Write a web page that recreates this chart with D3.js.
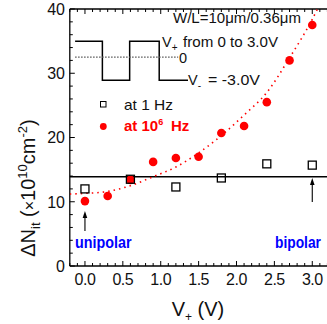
<!DOCTYPE html>
<html><head><meta charset="utf-8">
<script src="https://cdn.jsdelivr.net/npm/d3@7"></script>
<style>
html,body{margin:0;padding:0;background:#fff;}
svg{display:block;font-family:Arial,"Liberation Sans",sans-serif;}
</style></head>
<body><svg id="c" width="327" height="324"></svg>
<script>
// ---- data ----
const vPlus1Hz = [0.0, 0.6, 1.2, 1.8, 2.4, 3.0];
const dNit1Hz = [12.0, 13.5, 12.3, 13.7, 15.9, 15.7];
const vPlusHF = [0.0, 0.3, 0.6, 0.9, 1.2, 1.5, 1.8, 2.1, 2.4, 2.7, 3.0];
const dNitHF = [10.1, 10.9, 13.4, 16.2, 16.8, 17.0, 20.7, 21.8, 25.5, 32.0, 37.5];
const fitV = [-0.2, 0.0, 0.3, 0.6, 0.9, 1.2, 1.5, 1.8, 2.1, 2.4, 2.7, 3.0, 3.15];
const fitN = [11.2, 11.3, 11.6, 12.5, 13.9, 15.4, 17.6, 20.3, 23.5, 27.0, 32.4, 38.4, 42.0];
const refLevel = 13.9;
const xTicks = [0.0, 0.5, 1.0, 1.5, 2.0, 2.5, 3.0];
const yTicks = [0, 10, 20, 30, 40];
// inset pulse waveform (in data units)
const pulseX = [-0.13, 0.23, 0.59, 0.98, 1.36];
const pulseHigh = 35.0, pulseLow = 28.9, pulseZero = 32.5, pulseZeroEnd = 1.23;

const svg = d3.select("#c");
const x = d3.scaleLinear().domain([-0.2, 3.3]).range([69.8, 335]);
const y = d3.scaleLinear().domain([0, 40]).range([266, 9]);
const X0 = x.range()[0], X1 = 327, Y0 = y(0), Y1 = y(40);
const ink = "#111";

svg.append("defs").append("clipPath").attr("id","clip")
  .append("rect").attr("x",X0).attr("y",Y1).attr("width",X1-X0).attr("height",Y0-Y1);

// ticks (inside)
const minorX = d3.range(-0.2, 3.31, 0.1).map(v=>+v.toFixed(2));
const tg = svg.append("g").attr("stroke","#000").attr("stroke-width",1);
minorX.forEach(v=>{
  const major = Math.abs(v*2-Math.round(v*2))<1e-6;
  const L = major?5:3;
  tg.append("line").attr("x1",x(v)).attr("x2",x(v)).attr("y1",Y0).attr("y2",Y0-L);
  tg.append("line").attr("x1",x(v)).attr("x2",x(v)).attr("y1",Y1).attr("y2",Y1+L);
});
d3.range(0, 41, 2).forEach(v=>{
  const L = v%10===0?5:3;
  tg.append("line").attr("x1",X0).attr("x2",X0+L).attr("y1",y(v)).attr("y2",y(v));
});

// frame
const fr = svg.append("g").attr("stroke","#000").attr("stroke-width",1.3).attr("fill","none");
fr.append("line").attr("x1",X0).attr("x2",X0).attr("y1",Y1).attr("y2",Y0);
fr.append("line").attr("x1",X0).attr("x2",X1).attr("y1",Y0).attr("y2",Y0);
fr.append("line").attr("x1",X0).attr("x2",X1).attr("y1",Y1).attr("y2",Y1);

// tick labels
svg.append("g").selectAll("text").data(xTicks).join("text")
  .attr("x",d=>x(d)).attr("y",285).attr("text-anchor","middle")
  .attr("font-size",16).attr("letter-spacing","-0.5px").attr("fill",ink).text(d=>d.toFixed(1));
svg.append("g").selectAll("text").data(yTicks).join("text")
  .attr("x",65).attr("y",d=>y(d)).attr("dy","0.36em").attr("text-anchor","end")
  .attr("font-size",16).attr("fill",ink).text(d=>d);

// axis titles
const xt = svg.append("text").attr("x",198).attr("y",316).attr("text-anchor","middle")
  .attr("font-size",20).attr("fill",ink);
xt.append("tspan").text("V");
xt.append("tspan").attr("font-size",12).attr("dy",5).text("+");
xt.append("tspan").attr("dy",-5).text(" (V)");

const yt = svg.append("text").attr("transform","translate(35,188) rotate(-90)")
  .attr("text-anchor","middle").attr("font-size",20).attr("fill",ink);
yt.append("tspan").text("ΔN");
yt.append("tspan").attr("font-size",13).attr("dy",5).text("it");
yt.append("tspan").attr("dy",-5).text(" (");
yt.append("tspan").attr("font-size",16).text("×");
yt.append("tspan").text("10");
yt.append("tspan").attr("font-size",13).attr("dy",-8).text("10");
yt.append("tspan").attr("dy",8).text("cm");
yt.append("tspan").attr("font-size",13).attr("dy",-8).text("-2");
yt.append("tspan").attr("dy",8).text(")");

const plot = svg.append("g").attr("clip-path","url(#clip)");

// reference horizontal line
plot.append("line").attr("x1",X0).attr("x2",X1).attr("y1",y(refLevel)).attr("y2",y(refLevel))
  .attr("stroke","#000").attr("stroke-width",1.5);

// fit curve
plot.append("path").datum(fitV.map((v,i)=>[v,fitN[i]]))
  .attr("d",d3.line().x(d=>x(d[0])).y(d=>y(d[1])).curve(d3.curveMonotoneX))
  .attr("fill","none").attr("stroke","#ff0000").attr("stroke-width",1.6)
  .attr("stroke-dasharray","1.5,4");

// inset waveform
const pts = [[pulseX[0],pulseHigh],[pulseX[1],pulseHigh],[pulseX[1],pulseLow],[pulseX[2],pulseLow],
  [pulseX[2],pulseHigh],[pulseX[3],pulseHigh],[pulseX[3],pulseLow],[pulseX[4],pulseLow]];
plot.append("path").datum(pts).attr("d",d3.line().x(d=>x(d[0])).y(d=>y(d[1])))
  .attr("fill","none").attr("stroke","#000").attr("stroke-width",1.5);
plot.append("line").attr("x1",x(pulseX[0])).attr("x2",x(pulseZeroEnd))
  .attr("y1",y(pulseZero)).attr("y2",y(pulseZero))
  .attr("stroke","#555").attr("stroke-width",1.2).attr("stroke-dasharray","1.5,1.5");

// high-frequency circles
plot.append("g").selectAll("circle").data(vPlusHF.map((v,i)=>[v,dNitHF[i]])).join("circle")
  .attr("cx",d=>x(d[0])).attr("cy",d=>y(d[1])).attr("r",4.3).attr("fill","#ff0000");
// 1 Hz squares (open)
plot.append("g").selectAll("rect").data(vPlus1Hz.map((v,i)=>[v,dNit1Hz[i]])).join("rect")
  .attr("x",d=>x(d[0])-4).attr("y",d=>y(d[1])-4).attr("width",8).attr("height",8)
  .attr("fill","none").attr("stroke","#000").attr("stroke-width",1.3);

// texts
svg.append("text").attr("x",173).attr("y",23).attr("font-size",14.5).attr("fill",ink)
  .attr("textLength",128).attr("lengthAdjust","spacingAndGlyphs").text("W/L=10μm/0.36μm");
const t2 = svg.append("text").attr("x",162).attr("y",47).attr("font-size",14.5).attr("fill",ink);
t2.append("tspan").text("V");
t2.append("tspan").attr("font-size",10).attr("dy",4).text("+");
t2.append("tspan").attr("x",183).attr("dy",-4).attr("textLength",95).attr("lengthAdjust","spacingAndGlyphs")
  .text("from 0 to 3.0V");
svg.append("text").attr("x",179).attr("y",63).attr("font-size",14.5).attr("fill",ink).text("0");
const t3 = svg.append("text").attr("x",188).attr("y",85).attr("font-size",14.5).attr("fill",ink);
t3.append("tspan").text("V");
t3.append("tspan").attr("font-size",10).attr("dy",4).text("-");
t3.append("tspan").attr("x",208).attr("dy",-4).attr("textLength",52).attr("lengthAdjust","spacingAndGlyphs")
  .text("= -3.0V");

// legend
svg.append("rect").attr("x",100.5).attr("y",101.5).attr("width",5.5).attr("height",5.5)
  .attr("fill","#fff").attr("stroke","#000").attr("stroke-width",1);
svg.append("text").attr("x",124).attr("y",110).attr("font-size",14.5)
  .attr("textLength",49).attr("lengthAdjust","spacingAndGlyphs")
  .attr("fill",ink).text("at 1 Hz");
svg.append("circle").attr("cx",103.3).attr("cy",126.5).attr("r",3.4).attr("fill","#ff0000");
const lg = svg.append("text").attr("x",124).attr("y",131).attr("font-size",15)
  .attr("font-weight","bold").attr("fill","#ff0000");
lg.append("tspan").text("at 10");
lg.append("tspan").attr("font-size",9).attr("dy",-6).text("6");
lg.append("tspan").attr("x",171).attr("dy",6).text("Hz");

// unipolar / bipolar
svg.append("text").attr("x",75).attr("y",248).attr("font-size",16).attr("font-weight","bold")
  .attr("textLength",56.5).attr("lengthAdjust","spacingAndGlyphs")
  .attr("fill","#0000ff").text("unipolar");
svg.append("text").attr("x",275).attr("y",248).attr("font-size",16).attr("font-weight","bold")
  .attr("textLength",46).attr("lengthAdjust","spacingAndGlyphs")
  .attr("fill","#0000ff").text("bipolar");

// arrows
function arrow(xv, yTip, yBot){
  const g = svg.append("g");
  g.append("line").attr("x1",xv).attr("x2",xv).attr("y1",yTip+4).attr("y2",yBot)
    .attr("stroke","#000").attr("stroke-width",1.1);
  g.append("path").attr("d",`M${xv},${yTip} L${xv-2.3},${yTip+7} L${xv+2.3},${yTip+7} Z`).attr("fill","#000");
}
arrow(x(0), 211, 231);
arrow(x(3.0), 178, 202);
</script></body></html>
